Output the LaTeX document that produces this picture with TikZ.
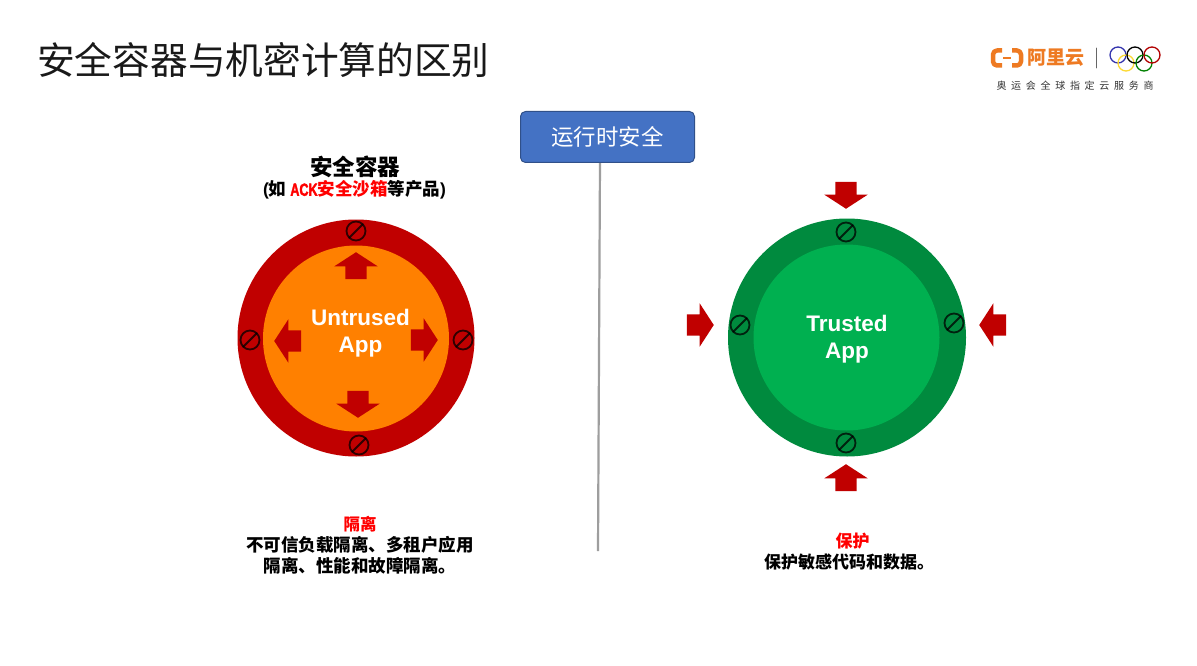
\documentclass[tikz,border=0pt]{standalone}
\usepackage{fontspec}
\setmainfont{Liberation Sans}
\newfontfamily\cjk{Noto Sans CJK SC}
\newfontfamily\cjkwide[LetterSpace=47]{Noto Sans CJK SC}
\newfontfamily\ackfont[BoldFeatures={FakeBold=2.5}]{Liberation Sans}
\usetikzlibrary{shapes.arrows,shapes.symbols}
\definecolor{ringred}{HTML}{C00000}
\definecolor{appred}{HTML}{FF8000}
\definecolor{ringgreen}{HTML}{008A3E}
\definecolor{appgreen}{HTML}{00B050}
\definecolor{boxblue}{HTML}{4472C4}
\definecolor{logoorange}{HTML}{EE7A22}
\tikzset{
  disc/.style={circle,inner sep=0pt,minimum size=#1},
  redarrow/.style={single arrow,fill=ringred,inner xsep=0pt,inner ysep=10.5pt,minimum width=43pt,minimum height=27pt,
    single arrow head extend=11pt,single arrow tip angle=114,anchor=tip,rotate=#1},
  nosign/.style={forbidden sign,draw=black,draw opacity=0.75,line width=1.8pt,inner sep=0pt,minimum size=19pt},
  apptext/.style={white,font=\fontsize{22.5}{27}\selectfont\bfseries,align=center},
  cntext/.style={font=\cjk\fontsize{17.5}{21}\selectfont\bfseries,align=center,inner sep=0pt},
  ring/.style={draw=#1,line width=1.3pt,circle,inner sep=0pt,minimum size=16pt}
}
\begin{document}
\begin{tikzpicture}[line cap=round,line join=round,x=1pt,y=-1pt]
\useasboundingbox[fill=white] (0,0) rectangle (1197,666);
\node[anchor=west,inner sep=0pt,font=\cjk\fontsize{37.7}{40}\selectfont,color=black!90] (title) at (37,60) {安全容器与机密计算的区别};

%logo
\draw[logoorange,line width=4.5pt,line cap=butt,rounded corners=4pt] (1002,50.5)--(993,50.5)--(993,65.5)--(1002,65.5);
\draw[logoorange,line width=4.5pt,line cap=butt,rounded corners=4pt] (1012,50.5)--(1021,50.5)--(1021,65.5)--(1012,65.5);
\draw[logoorange,line width=2pt,line cap=butt] (1003,58)--(1011,58);
\node[inner sep=0pt,font=\cjk\fontsize{19}{20}\selectfont\bfseries,color=logoorange] (aliyun) at (1056,58) {阿里云};
\draw[black!60,line width=0.8pt] (1096,48)--(1096,68);
\node[ring=blue!60!black!80] (ringa) at (1118,55) {};
\node[ring=yellow!70!orange!80] (ringd) at (1126,63) {};
\node[ring=black] (ringb) at (1135,55) {};
\node[ring=green!50!black] (ringe) at (1144,63) {};
\node[ring=red!70!black] (ringc) at (1152,55) {};
\node[inner sep=0pt,font=\cjkwide\fontsize{10}{12}\selectfont,color=black!80] (sponsor) at (1075,86) {奥运会全球指定云服务商};

%middle
\draw[black!38,line width=2.2pt,line cap=butt] (600,160)--(598,551);
\node[draw=boxblue!70!black,fill=boxblue,rounded corners=5pt,line width=1pt,minimum width=174pt,minimum height=51pt,inner sep=0pt,
  text=white,font=\cjk\fontsize{22.4}{24}\selectfont] (runtime) at (607.5,137) {运行时安全};

%left
\node[inner sep=0pt,font=\cjk\fontsize{22.5}{24}\selectfont\bfseries] (lefttitle) at (355,167) {安全容器};
\node[cntext] (leftsub) at (354.5,190) {{\rmfamily(}如\hspace{4pt}{\color{red}\scalebox{0.72}[1]{\ackfont ACK}安全沙箱}等产品{\rmfamily)}};
\node[disc=237pt,fill=ringred] (leftring) at (356,338) {};
\node[disc=186pt,fill=appred] (leftapp) at (356,338.5) {};
\node[apptext] (untrusted) at (360.5,333) {Untrused\\App};
\node[redarrow=90] (lu) at (356,252) {};
\node[redarrow=-90] (ld) at (358,418) {};
\node[redarrow=180] (ll) at (274,341) {};
\node[redarrow=0] (lr) at (438,340) {};
\node[nosign] (ls1) at (356,231) {};
\node[nosign] (ls2) at (359,445) {};
\node[nosign] (ls3) at (250,340) {};
\node[nosign] (ls4) at (463,340) {};
\node[cntext,font=\cjk\fontsize{16.5}{21}\selectfont\bfseries,color=red] (leftkey) at (360,524.5) {隔离};
\node[cntext] (lefttext) at (360,555.5) {不可信负载隔离、多租户应用\\隔离、性能和故障隔离。};

%right
\node[disc=238pt,fill=ringgreen] (rightring) at (847,337.5) {};
\node[disc=186pt,fill=appgreen] (rightapp) at (846.5,337.5) {};
\node[apptext] (trusted) at (847,339.5) {Trusted\\App};
\node[redarrow=-90] (ru) at (846,209) {};
\node[redarrow=90] (rd) at (846,464) {};
\node[redarrow=0] (rl) at (714,325) {};
\node[redarrow=180] (rr) at (979,325) {};
\node[nosign] (rs1) at (846,232) {};
\node[nosign] (rs2) at (846,443) {};
\node[nosign] (rs3) at (740,325) {};
\node[nosign] (rs4) at (954,323) {};
\node[cntext,font=\cjk\fontsize{17}{21}\selectfont\bfseries,color=red] (rightkey) at (852.5,541) {保护};
\node[cntext,font=\cjk\fontsize{17}{21}\selectfont\bfseries] (righttext) at (849,562) {保护敏感代码和数据。};
\end{tikzpicture}
\end{document}
